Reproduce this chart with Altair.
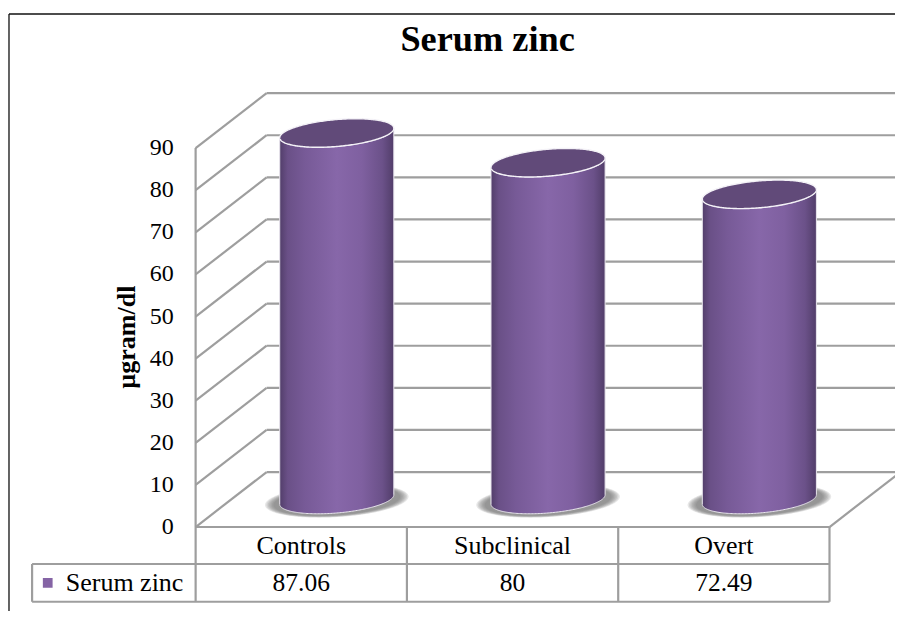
import altair as alt
import numpy as np
import pandas as pd

categories = ["Controls", "Subclinical", "Overt"]
values = [87.06, 80, 72.49]
value_labels = ["87.06", "80", "72.49"]
ticks = [0, 10, 20, 30, 40, 50, 60, 70, 80, 90]
series = "Serum zinc"
title = "Serum zinc"
y_title = "µgram/dl"

FONT = "Liberation Serif"
GRID = "#9e9e9e"
# projection of the 3D box, in scale units
DX, DY = 0.336, 13.06
X_DOM = [-1.388, 2.81]
Y_DOM = [-19.95, 123.28]
ROW1, ROW2 = -8.79, -17.75
LEFT, RIGHT = -0.5, 2.5
TABLE_LEFT = -1.274

x_s = alt.Scale(domain=X_DOM, nice=False, zero=False)
y_s = alt.Scale(domain=Y_DOM, nice=False, zero=False)
X = lambda f="x": alt.X(f"{f}:Q", scale=x_s, axis=None)
Y = lambda f="y": alt.Y(f"{f}:Q", scale=y_s, axis=None)


def segs(rows):
    out = []
    for i, (x0, y0, x1, y1) in enumerate(rows):
        out += [dict(id=i, ord=0, x=x0, y=y0), dict(id=i, ord=1, x=x1, y=y1)]
    return pd.DataFrame(out)


def lines(rows, color=GRID, width=2.2):
    return alt.Chart(segs(rows)).mark_line(color=color, strokeWidth=width, clip=False).encode(
        x=X(), y=Y(), detail="id:N", order="ord:Q")


wall = []
for t in ticks:
    wall.append((LEFT, t, LEFT + DX, t + DY))
    wall.append((LEFT + DX, t + DY, RIGHT + DX, t + DY))
wall.append((LEFT, 0, LEFT, 90))
wall.append((RIGHT, 0, RIGHT + DX, DY))

table = [(LEFT, 0, RIGHT, 0), (TABLE_LEFT, ROW1, RIGHT, ROW1), (TABLE_LEFT, ROW2, RIGHT, ROW2),
         (TABLE_LEFT, ROW1, TABLE_LEFT, ROW2)]
for c in [LEFT, 0.5, 1.5, RIGHT]:
    table.append((c, 0, c, ROW2))

FX, FY = X_DOM[0] + 0.0047, Y_DOM[1] - 1.43
frame = [(FX, FY, X_DOM[1], FY), (FX, FY, FX, Y_DOM[0])]

# ellipse geometry (scale units)
A, B, S = 0.27, 3.2, 1.12
u = np.cos(np.linspace(np.pi, 0, 121))
root = np.sqrt(1 - u ** 2)
base_y = DY / 2

body, cap, shadow = [], [], []
for i, v in enumerate(values):
    cx = i + DX / 2
    for ui, ri in zip(u, root):
        xp = cx + A * ui
        body.append(dict(c=i, x=xp, y=v + base_y + S * ui - B * ri, y2=base_y + S * ui - B * ri))
        cap.append(dict(c=i, x=xp, y=v + base_y + S * ui - B * ri, y2=v + base_y + S * ui + B * ri))
    for lvl, k in enumerate([1.02, 1.0, 0.98, 0.96, 0.94, 0.92, 0.9]):
        for ui, ri in zip(u, root):
            shadow.append(dict(c=i, l=lvl, x=cx + 0.333 * k * ui,
                               y=base_y - 0.3 + 1.0 * ui - 3.8 * k * ri,
                               y2=base_y - 0.3 + 1.0 * ui + 3.8 * k * ri))

grad = alt.Gradient(
    gradient="linear", x1=0, x2=1, y1=0, y2=0,
    stops=[alt.GradientStop(color="#523e6a", offset=0),
           alt.GradientStop(color="#6a5087", offset=0.07),
           alt.GradientStop(color="#775a97", offset=0.22),
           alt.GradientStop(color="#8767a9", offset=0.5),
           alt.GradientStop(color="#7f60a0", offset=0.72),
           alt.GradientStop(color="#6b5189", offset=0.9),
           alt.GradientStop(color="#513d69", offset=1)])

shadow_l = alt.Chart(pd.DataFrame(shadow)).mark_area(color="#6e6e6e", opacity=0.17, orient="vertical").encode(
    x=X(), y=Y(), y2="y2:Q", detail=["c:N", "l:N"])
body_l = alt.Chart(pd.DataFrame(body)).mark_area(
    color=grad, stroke="#e9e6ee", strokeWidth=1, orient="vertical").encode(
    x=X(), y=Y(), y2="y2:Q", detail="c:N")
cap_l = alt.Chart(pd.DataFrame(cap)).mark_area(
    color="#614a79", stroke="#f4f2f7", strokeWidth=1.4, orient="vertical").encode(
    x=X(), y=Y(), y2="y2:Q", detail="c:N")


def text(df, size=24, align="center", bold=False, angle=None, dx=0):
    kw = dict(font=FONT, fontSize=size, align=align, baseline="middle", color="black", dx=dx,
              fontWeight="bold" if bold else "normal")
    if angle is not None:
        kw["angle"] = angle
    return alt.Chart(df).mark_text(**kw).encode(x=X(), y=Y(), text="t:N")


tick_df = pd.DataFrame({"x": [LEFT] * len(ticks), "y": ticks, "t": [str(t) for t in ticks]})
cat_df = pd.DataFrame({"x": range(3), "y": [ROW1 / 2] * 3, "t": categories})
val_df = pd.DataFrame({"x": range(3), "y": [(ROW1 + ROW2) / 2] * 3, "t": value_labels})
leg_df = pd.DataFrame({"x": [-1.2], "y": [(ROW1 + ROW2) / 2], "t": [series]})
title_df = pd.DataFrame({"x": [0.882], "y": [115.7], "t": [title]})
ytitle_df = pd.DataFrame({"x": [-0.826], "y": [45.1], "t": [y_title]})

chart = alt.layer(
    lines(frame, color="#111111", width=1.3),
    lines(wall),
    shadow_l, body_l, cap_l,
    lines(table),
    text(tick_df, align="right", dx=-22),
    text(cat_df, size=26), text(val_df, size=25.5),
    alt.Chart(leg_df).mark_square(size=95, color="#8564a5", opacity=1).encode(x=X(), y=Y()),
    text(leg_df, size=26, align="left", dx=18),
    text(title_df, size=36.3, bold=True),
    text(ytitle_df, size=26, bold=True, angle=270),
).properties(
    width=887, height=603, padding=0,
    autosize=alt.AutoSizeParams(type="none"),
    background="white",
).configure_view(stroke=None)

chart.save("out.html", embed_options={"renderer": "svg", "actions": False})
